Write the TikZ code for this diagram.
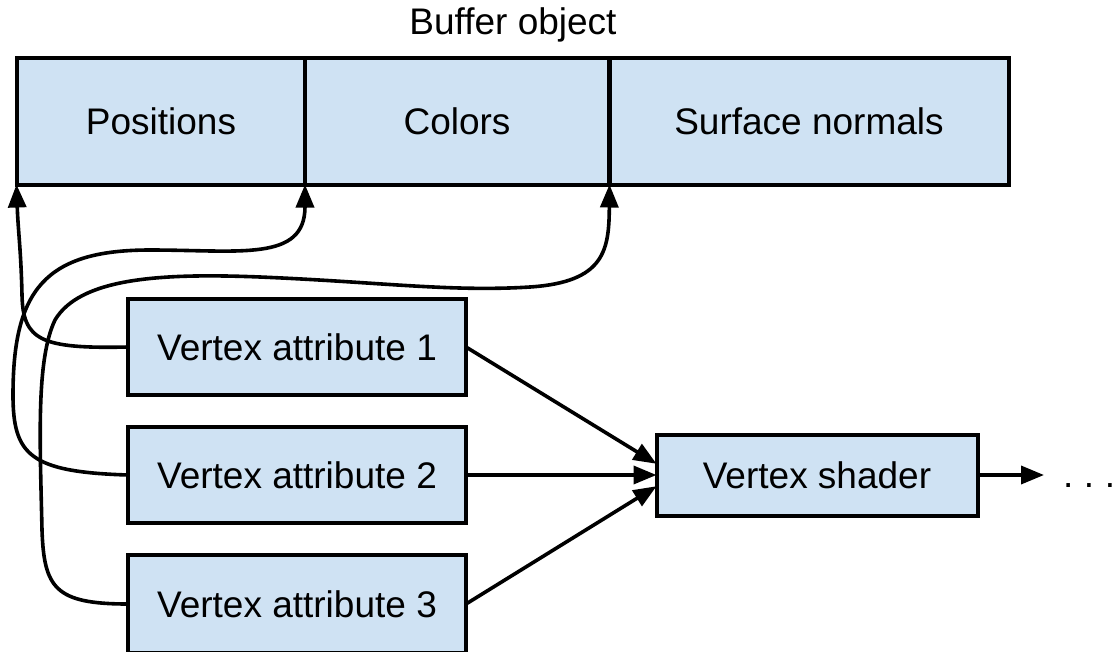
\documentclass[tikz,border=0pt]{standalone}
\usepackage{fontspec}
\setmainfont{Liberation Sans}
\usetikzlibrary{arrows.meta}

\definecolor{cellblue}{HTML}{CFE2F3}

\tikzset{
  cell/.style={rectangle,draw=black,fill=cellblue,line width=4pt,
    inner sep=0pt,outer sep=0pt,font=\fontsize{37}{44}\selectfont},
  arr/.style={line width=3.6pt,-{Triangle[length=23pt,width=18pt]}}
}

\begin{document}
\begin{tikzpicture}[x=1pt,y=-1pt]
    \useasboundingbox (0,0) rectangle (1114,651);

    \node (title) at (513,25) {\fontsize{37}{44}\selectfont Buffer object};

    \node (pos) [cell,minimum width=289pt,minimum height=127pt] at (161,121) {Positions};
    \node (col) [cell,minimum width=304pt,minimum height=127pt] at (457,121) {Colors};
    \node (surf) [cell,minimum width=399pt,minimum height=127pt] at (809,121) {Surface normals};

    \node (va1) [cell,minimum width=338pt,minimum height=96pt] at (297,347) {Vertex attribute 1};
    \node (va2) [cell,minimum width=338pt,minimum height=96pt] at (297,475) {Vertex attribute 2};
    \node (va3) [cell,minimum width=338pt,minimum height=98pt] at (297,604) {Vertex attribute 3};

    \node (sh) [cell,minimum width=321pt,minimum height=81pt] at (817,475) {Vertex shader};

    \node (dots) [anchor=base west,inner sep=0pt] at (1063,487)
      {\fontsize{37}{44}\selectfont .\hspace{10.5pt}.\hspace{10.5pt}\makebox[7pt][l]{.}};
    \coordinate (out) at (1044,475);

  \draw[arr] (va1.east) -- (sh.176);
  \draw[arr] (va2.east) -- (sh.west);
  \draw[arr] (va3.east) -- (sh.184);
  \draw[arr] (sh.east) -- (out);

  \draw[arr] (va1.west) .. controls (40,349) and (23,340) .. (22,295)
    .. controls (21,250) and (18,230) .. (pos.south west);
  \draw[arr] (va2.west) .. controls (30,472) and (13,455) .. (13,395)
    .. controls (13,290) and (45,250) .. (150,250)
    .. controls (240,250) and (305,262) .. (col.south west);
  \draw[arr] (va3.west) .. controls (55,604) and (44,588) .. (42,530)
    .. controls (40,440) and (36,360) .. (55,320)
    .. controls (80,278) and (160,273) .. (260,277)
    .. controls (380,282) and (450,292) .. (530,287)
    .. controls (605,282) and (609,250) .. (surf.south west);
\end{tikzpicture}
\end{document}
